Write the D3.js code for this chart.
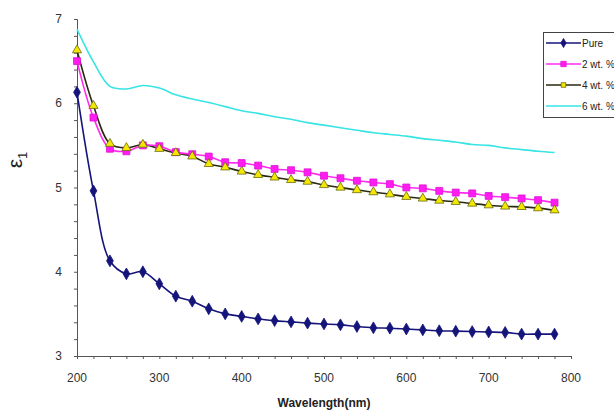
<!DOCTYPE html>
<html>
<head>
<meta charset="utf-8">
<script src="https://cdn.jsdelivr.net/npm/d3@7"></script>
<style>
    body { margin: 0; background: #fff; }
    svg { display: block; font-family: "Liberation Sans", Arial, sans-serif; }
</style>
</head>
<body>
<div id="chart"></div>
<script>
// Dielectric constant vs wavelength

const wavelengths = [200, 220, 240, 260, 280, 300, 320, 340, 360, 380, 400, 420, 440, 460, 480,
    500, 520, 540, 560, 580, 600, 620, 640, 660, 680, 700, 720, 740, 760, 780];

const purePoints = [6.13, 4.96, 4.13, 3.975, 4.00, 3.857, 3.71, 3.65, 3.56, 3.50, 3.47, 3.44, 3.42, 3.405, 3.39,
    3.38, 3.37, 3.35, 3.335, 3.33, 3.32, 3.31, 3.30, 3.295, 3.29, 3.285, 3.28, 3.26, 3.26, 3.26];
const wt2Points = [6.50, 5.83, 5.46, 5.43, 5.50, 5.49, 5.42, 5.395, 5.367, 5.30, 5.29, 5.26, 5.22, 5.205, 5.18,
    5.14, 5.11, 5.08, 5.06, 5.04, 5.00, 4.99, 4.96, 4.94, 4.93, 4.90, 4.885, 4.87, 4.85, 4.82];
const wt4Points = [6.63, 5.97, 5.52, 5.47, 5.51, 5.46, 5.41, 5.37, 5.28, 5.24, 5.19, 5.15, 5.12, 5.09, 5.07,
    5.03, 5.00, 4.97, 4.945, 4.92, 4.89, 4.87, 4.845, 4.83, 4.81, 4.79, 4.775, 4.77, 4.755, 4.73];
const wt6Points = [6.88, 6.49, 6.20, 6.17, 6.21, 6.18, 6.10, 6.05, 6.01, 5.96, 5.91, 5.88, 5.84, 5.81, 5.77,
    5.74, 5.71, 5.68, 5.65, 5.63, 5.61, 5.58, 5.56, 5.54, 5.51, 5.50, 5.47, 5.45, 5.43, 5.415];

const xTicks = [200, 300, 400, 500, 600, 700, 800];
const yTicks = [3, 4, 5, 6, 7];

const seriesList = [
    { name: "Pure", values: purePoints, line: "#14147a", fill: "#14147a", stroke: "#14147a", symbol: d3.symbolDiamond, size: 40 },
    { name: "2 wt. %", values: wt2Points, line: "#ff2cf0", fill: "#ff1cf0", stroke: "#e010d8", symbol: d3.symbolSquare, size: 48 },
    { name: "4 wt. %", values: wt4Points, line: "#2a2a10", fill: "#f4e800", stroke: "#6a6a10", symbol: d3.symbolTriangle, size: 36 },
    { name: "6 wt. %", values: wt6Points, line: "#38e4e4", fill: "none", stroke: "#38e4e4", symbol: d3.symbolCross, size: 0 }
];

const width = 614;
const height = 410;
const plot = { left: 77, right: 571, top: 19, bottom: 356 };

const svg = d3.select("#chart").append("svg")
    .attr("width", width)
    .attr("height", height);

const x = d3.scaleLinear().domain([200, 800]).range([plot.left, plot.right]);
const y = d3.scaleLinear().domain([3, 7]).range([plot.bottom, plot.top]);

// axes
const xAxis = svg.append("g")
    .attr("transform", `translate(0,${plot.bottom})`)
    .call(d3.axisBottom(x).tickValues(d3.range(200, 801, 20)).tickSize(3).tickFormat(""));
xAxis.select(".domain").attr("stroke", "#555");
xAxis.selectAll(".tick line").attr("stroke", "#555");

svg.append("g")
    .selectAll("text")
    .data(xTicks)
    .join("text")
    .attr("x", d => x(d))
    .attr("y", plot.bottom + 26)
    .attr("text-anchor", "middle")
    .attr("font-size", 12)
    .attr("fill", "#333")
    .text(d => d);

const yAxis = svg.append("g")
    .attr("transform", `translate(${plot.left},0)`)
    .call(d3.axisLeft(y).tickValues(d3.range(3, 7.01, 0.2)).tickSize(3).tickFormat(""));
yAxis.select(".domain").attr("stroke", "#555");
yAxis.selectAll(".tick line").attr("stroke", "#555");

svg.append("g")
    .selectAll("text")
    .data(yTicks)
    .join("text")
    .attr("x", plot.left - 15)
    .attr("y", d => y(d) + 4)
    .attr("text-anchor", "end")
    .attr("font-size", 12)
    .attr("fill", "#333")
    .text(d => d);

svg.append("text")
    .attr("x", (plot.left + plot.right) / 2)
    .attr("y", 407)
    .attr("text-anchor", "middle")
    .attr("font-size", 12)
    .attr("font-weight", "bold")
    .attr("fill", "#222")
    .text("Wavelength(nm)");

const yLabel = svg.append("text")
    .attr("transform", "translate(22,160) rotate(-90)")
    .attr("text-anchor", "middle")
    .attr("font-size", 21)
    .attr("fill", "#222");
yLabel.append("tspan").text("ε");
yLabel.append("tspan").attr("font-size", 13).attr("dy", 5).text("1");

// series
const line = d3.line()
    .x((d, i) => x(wavelengths[i]))
    .y(d => y(d))
    .curve(d3.curveCatmullRom);

const seriesGroup = svg.append("g");
seriesList.slice().reverse().forEach(s => {
    seriesGroup.append("path")
        .datum(s.values)
        .attr("fill", "none")
        .attr("stroke", s.line)
        .attr("stroke-width", 1.6)
        .attr("d", line);
});

seriesList.forEach(s => {
    if (!s.size) return;
    seriesGroup.append("g")
        .selectAll("path")
        .data(s.values)
        .join("path")
        .attr("transform", (d, i) => `translate(${x(wavelengths[i])},${y(d)})`)
        .attr("d", d3.symbol().type(s.symbol).size(s.size))
        .attr("fill", s.fill)
        .attr("stroke", s.stroke)
        .attr("stroke-width", 0.8);
});

// legend
const legend = svg.append("g");
legend.append("rect")
    .attr("x", 543.5)
    .attr("y", 32.5)
    .attr("width", 80)
    .attr("height", 85)
    .attr("fill", "#fff")
    .attr("stroke", "#444");

const legendRows = legend.selectAll("g.row")
    .data(seriesList)
    .join("g")
    .attr("class", "row")
    .attr("transform", (d, i) => `translate(0,${43 + i * 21})`);

legendRows.append("line")
    .attr("x1", 546)
    .attr("x2", 581)
    .attr("stroke", d => d.line)
    .attr("stroke-width", 1.6);

legendRows.filter(d => d.size > 0)
    .append("path")
    .attr("transform", "translate(563.5,0)")
    .attr("d", d => d3.symbol().type(d.symbol === d3.symbolTriangle ? d3.symbolSquare : d.symbol).size(d.size * 0.6)())
    .attr("fill", d => d.fill)
    .attr("stroke", d => d.stroke)
    .attr("stroke-width", 0.8);

legendRows.append("text")
    .attr("x", 582)
    .attr("y", 4)
    .attr("font-size", 10)
    .attr("fill", "#222")
    .text(d => d.name);
</script>
</body>
</html>
